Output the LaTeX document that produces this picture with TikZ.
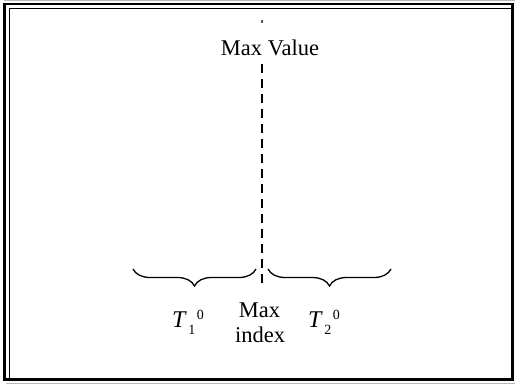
\documentclass[tikz,border=0pt]{standalone}
\usepackage{fontspec}
\setmainfont{Liberation Serif}
\usetikzlibrary{decorations.pathreplacing}
\newcommand{\Tsym}[1]{{\fontsize{24}{24}\selectfont\textit{T}}\kern1.5pt\raisebox{-7pt}{\fontsize{14}{14}\selectfont #1}\kern1.5pt\raisebox{9pt}{\fontsize{14}{14}\selectfont 0}}
\tikzset{
  lbl/.style={inner sep=0pt, font=\fontsize{22.5}{24}\selectfont},
  bracestyle/.style={line width=1.3pt, decorate, decoration={brace, mirror, amplitude=17pt}},
  dashline/.style={line width=1.4pt, dash pattern=on 9pt off 6pt},
}
\begin{document}
\begin{tikzpicture}[x=1pt, y=-1pt]
\useasboundingbox (0,0) rectangle (515,385);
% frame
\draw[gray!55, line width=1.2pt] (4,0.8) -- (515,0.8);
\draw[gray!55, line width=1.2pt] (6,383.6) -- (515,383.6);
\draw[line width=2.6pt] (4.3,4) rectangle (512.7,379.8);
\draw[line width=1.3pt] (9.2,8.2) -- (512.7,8.2);
\draw[line width=1.3pt] (9.2,8.2) -- (9.2,379.8);
% labels
\node[lbl, anchor=base] (maxval) at (270,56) {Max Value};
\node[lbl, anchor=base] (maxa) at (259.5,318) {Max};
\node[lbl, anchor=base] (maxb) at (260,342) {index};
\node[lbl, anchor=base west] (t1) at (172,328) {\Tsym{1}};
\node[lbl, anchor=base west] (t2) at (308,328) {\Tsym{2}};
% dashed line
\coordinate (dtop) at (262,64);
\coordinate (dbot) at (262,288);
\coordinate (mtop) at (262,20.5);
\coordinate (mbot) at (262,23);
\draw[line width=1.2pt, gray!70!black] (mtop) -- (mbot);
\draw[dashline] (dtop) -- (dbot);
% braces
\coordinate (b1s) at (133,269);
\coordinate (b1e) at (256,269);
\coordinate (b2s) at (268,269);
\coordinate (b2e) at (391,269);
\draw[bracestyle] (b1s) -- (b1e);
\draw[bracestyle] (b2s) -- (b2e);
\end{tikzpicture}
\end{document}
